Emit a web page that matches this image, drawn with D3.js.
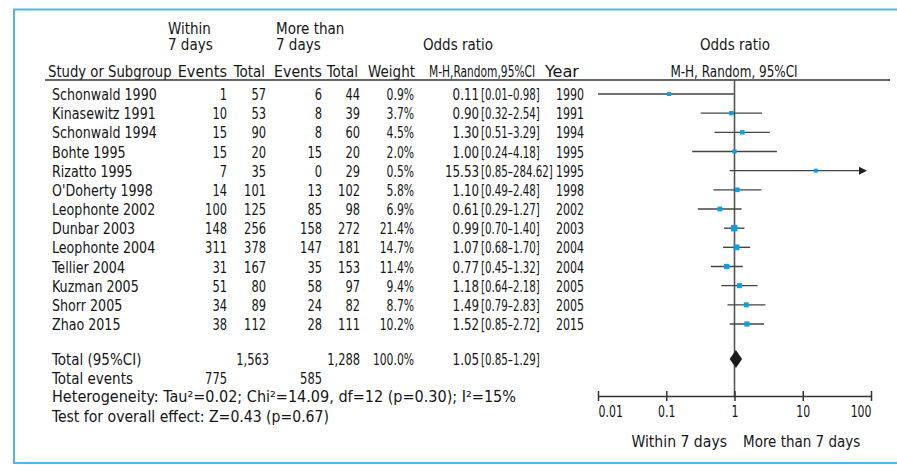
<!DOCTYPE html>
<html>
<head>
<meta charset="utf-8">
<script src="https://cdn.jsdelivr.net/npm/d3@7"></script>
<style>
  body { margin: 0; background: #fff; }
  svg text { font-family: "DejaVu Sans Condensed", "DejaVu Sans", sans-serif; font-stretch: condensed; font-size: 16px; fill: #151515; }
</style>
</head>
<body>
<svg id="chart" width="897" height="465"></svg>
<script>
// study data
const studies = ['Schonwald 1990', 'Kinasewitz 1991', 'Schonwald 1994', 'Bohte 1995', 'Rizatto 1995', "O'Doherty 1998",
  'Leophonte 2002', 'Dunbar 2003', 'Leophonte 2004', 'Tellier 2004', 'Kuzman 2005', 'Shorr 2005', 'Zhao 2015']
const eventsWithin = [1, 10, 15, 15, 7, 14, 100, 148, 311, 31, 51, 34, 38]
const totalWithin = [57, 53, 90, 20, 35, 101, 125, 256, 378, 167, 80, 89, 112]
const eventsMore = [6, 8, 8, 15, 0, 13, 85, 158, 147, 35, 58, 24, 28]
const totalMore = [44, 39, 60, 20, 29, 102, 98, 272, 181, 153, 97, 82, 111]
const weights = [0.9, 3.7, 4.5, 2.0, 0.5, 5.8, 6.9, 21.4, 14.7, 11.4, 9.4, 8.7, 10.2]
const oddsRatio = [0.11, 0.90, 1.30, 1.00, 15.53, 1.10, 0.61, 0.99, 1.07, 0.77, 1.18, 1.49, 1.52]
const ciLow = [0.01, 0.32, 0.51, 0.24, 0.85, 0.49, 0.29, 0.70, 0.68, 0.45, 0.64, 0.79, 0.85]
const ciHigh = [0.98, 2.54, 3.29, 4.18, 284.62, 2.48, 1.27, 1.40, 1.70, 1.32, 2.18, 2.83, 2.72]
const years = [1990, 1991, 1994, 1995, 1995, 1998, 2002, 2003, 2004, 2004, 2005, 2005, 2015]

// pooled result
const total = { within: '1,563', more: '1,288', weight: '100.0%', or: 1.05, lo: 0.85, hi: 1.29 }
const totalEvents = ['775', '585']
const axisTicks = [0.01, 0.1, 1, 10, 100]
const axisTickLabels = ['0.01', '0.1', '1', '10', '100']

const svg = d3.select('#chart')

// frame
svg.append('rect')
  .attr('x', 14).attr('y', 9.5)
  .attr('width', 900).attr('height', 453.5)
  .attr('fill', 'none')
  .attr('stroke', '#4cb8e6')
  .attr('stroke-width', 2)

const x = d3.scaleLog().domain([0.01, 100]).range([598, 871])
const y = d3.scalePoint().domain(studies).range([94, 324])
const size = d3.scaleLinear().domain([0.5, 21.4]).range([4, 6.5])

const fmt2 = d3.format('.2f')
const ciText = (lo, hi) => '[' + fmt2(lo) + '\u2013' + fmt2(hi) + ']'

// text squeezed horizontally (the original uses a tall narrow font)
const k = 15 / 16
function txt(g, s, xx, yy, anchor, sx) {
  return g.append('text')
    .attr('transform', 'translate(' + xx + ',' + yy + ') scale(' + ((sx || 1) * k) + ',1)')
    .attr('text-anchor', anchor || 'start').text(s)
}

// column positions and squeeze factors
const cols = {
  evW: [227, 0.85], totW: [266, 0.85], evM: [322, 0.85], totM: [360, 0.85],
  wt: [414, 0.8], or: [479, 0.88], ci: [481, 0.76], yr: [556, 0.82]
}

// header
const head = svg.append('g')
// two-line group labels
;[['Within', 168], ['More than', 276]].forEach(([lab, xx]) => {
  const t = txt(head, '', xx, 34)
  t.append('tspan').attr('x', 0).text(lab)
  t.append('tspan').attr('x', 0).attr('dy', 16).text('7 days')
})
txt(head, 'Odds ratio', 458, 50, 'middle')
txt(head, 'Odds ratio', 735, 50, 'middle')
txt(head, 'Study or Subgroup', 48, 77, 'start', 0.98)
txt(head, 'Events', 227, 77, 'end', 1.08)
txt(head, 'Total', 265, 77, 'end')
txt(head, 'Events', 322, 77, 'end', 1.05)
txt(head, 'Total', 358, 77, 'end')
txt(head, 'Weight', 415, 77, 'end')
txt(head, 'M-H,Random,95%CI', 429, 77, 'start', 0.79)
txt(head, 'Year', 545, 77, 'start', 1.2)
txt(head, 'M-H, Random, 95%CI', 734, 77, 'middle', 0.89)

svg.append('line')
  .attr('x1', 45).attr('x2', 890)
  .attr('y1', 80).attr('y2', 80)
  .attr('stroke', '#333').attr('stroke-width', 1.5)

// table rows
const body = svg.append('g')
studies.forEach((s, i) => {
  const yy = y(s) + 6
  txt(body, s, 52, yy, 'start', 0.94)
  txt(body, eventsWithin[i], cols.evW[0], yy, 'end', cols.evW[1])
  txt(body, totalWithin[i], cols.totW[0], yy, 'end', cols.totW[1])
  txt(body, eventsMore[i], cols.evM[0], yy, 'end', cols.evM[1])
  txt(body, totalMore[i], cols.totM[0], yy, 'end', cols.totM[1])
  txt(body, weights[i].toFixed(1) + '%', cols.wt[0], yy, 'end', cols.wt[1])
  txt(body, fmt2(oddsRatio[i]), cols.or[0], yy, 'end', cols.or[1])
  txt(body, ciText(ciLow[i], ciHigh[i]), cols.ci[0], yy, 'start', cols.ci[1])
  txt(body, years[i], cols.yr[0], yy, 'start', cols.yr[1])
})

// totals
const foot = svg.append('g')
txt(foot, 'Total (95%CI)', 52, 365)
txt(foot, total.within, 269, 365, 'end', cols.totW[1])
txt(foot, total.more, 360, 365, 'end', cols.totM[1])
txt(foot, total.weight, 414, 365, 'end', cols.wt[1])
txt(foot, fmt2(total.or), cols.or[0], 365, 'end', cols.or[1])
txt(foot, ciText(total.lo, total.hi), cols.ci[0], 365, 'start', cols.ci[1])
txt(foot, 'Total events', 52, 384)
txt(foot, totalEvents[0], 227, 384, 'end', cols.evW[1])
txt(foot, totalEvents[1], 322, 384, 'end', cols.evM[1])
txt(foot, 'Heterogeneity: Tau\u00b2=0.02; Chi\u00b2=14.09, df=12 (p=0.30); I\u00b2=15%', 52, 402, 'start', 1.07)
txt(foot, 'Test for overall effect: Z=0.43 (p=0.67)', 52, 422, 'start', 1.04)

// forest plot
const axisY = 396
svg.append('line')
  .attr('x1', x(1)).attr('x2', x(1))
  .attr('y1', 80).attr('y2', axisY)
  .attr('stroke', '#555').attr('stroke-width', 1.6)

const arrowEnd = x(100) - 4
const plot = svg.append('g')
plot.selectAll('line.ci')
  .data(studies.map((s, i) => i))
  .join('line')
  .attr('class', 'ci')
  .attr('x1', i => x(Math.max(ciLow[i], 0.01)))
  .attr('x2', i => ciHigh[i] > 100 ? arrowEnd - 6 : x(ciHigh[i]))
  .attr('y1', i => y(studies[i]))
  .attr('y2', i => y(studies[i]))
  .attr('stroke', '#444').attr('stroke-width', 1.4)

// arrow heads for CIs running off the scale
plot.selectAll('path.arrow')
  .data(studies.map((s, i) => i).filter(i => ciHigh[i] > 100))
  .join('path')
  .attr('class', 'arrow')
  .attr('d', i => {
    const yy = y(studies[i])
    return 'M' + arrowEnd + ',' + yy + 'L' + (arrowEnd - 8) + ',' + (yy - 4) + 'L' + (arrowEnd - 8) + ',' + (yy + 4) + 'Z'
  })
  .attr('fill', '#222')

plot.selectAll('rect.pt')
  .data(studies.map((s, i) => i))
  .join('rect')
  .attr('class', 'pt')
  .attr('x', i => x(oddsRatio[i]) - size(weights[i]) / 2)
  .attr('y', i => y(studies[i]) - size(weights[i]) / 2)
  .attr('width', i => size(weights[i]))
  .attr('height', i => size(weights[i]))
  .attr('fill', '#0aa0e8')

// pooled diamond
const dy = 359
plot.append('path')
  .attr('d', 'M' + x(total.lo) + ',' + dy + 'L' + x(total.or) + ',' + (dy - 9) +
    'L' + x(total.hi) + ',' + dy + 'L' + x(total.or) + ',' + (dy + 9) + 'Z')
  .attr('fill', '#1a1a1a')

// axis
const axis = svg.append('g')
  .attr('transform', 'translate(0,' + axisY + ')')
  .call(d3.axisBottom(x).tickValues(axisTicks).tickSize(0).tickPadding(0).tickFormat((d, i) => axisTickLabels[i]))
axis.select('.domain').attr('stroke', '#333').attr('stroke-width', 1.5)
axis.selectAll('.tick line').attr('y1', -5).attr('y2', 5).attr('stroke', '#333').attr('stroke-width', 1.5)
const last = axisTicks.length - 1
axis.selectAll('.tick text')
  .attr('y', null).attr('dy', null)
  .attr('transform', 'translate(0,21) scale(0.76,1)')
  .attr('text-anchor', (d, i) => i === 0 ? 'start' : i === last ? 'end' : 'middle')
  .style('font-size', '16px')
  .style('font-family', '"DejaVu Sans Condensed", "DejaVu Sans", sans-serif')
  .style('font-stretch', 'condensed')
  .attr('fill', '#151515')

txt(svg, 'Within 7 days', 727, 447, 'end', 1.04)
txt(svg, 'More than 7 days', 743, 447)
</script>
</body>
</html>
